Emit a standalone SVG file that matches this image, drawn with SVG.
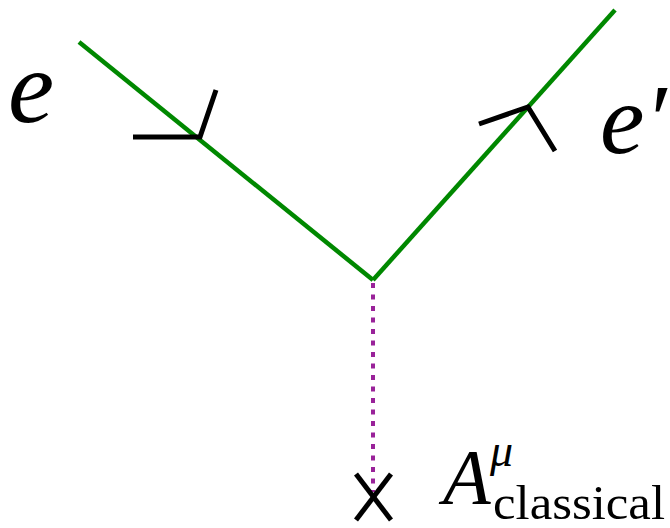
<svg xmlns="http://www.w3.org/2000/svg" width="670" height="528" viewBox="0 0 670 528">
<style>
.fermion{stroke:#008800;stroke-width:4.5;fill:none}
.arrow{stroke:#000;stroke-width:5;fill:none;stroke-linecap:butt}
.photon{stroke:#992299;stroke-width:4;stroke-dasharray:5 6.5;fill:none}
.lbl{font-family:"Liberation Serif","DejaVu Serif",serif;fill:#000}
.it{font-family:"Liberation Serif","DejaVu Serif",serif;font-style:italic;fill:#000}
</style>
<g id="connectors">
<line class="fermion" x1="79" y1="42" x2="373" y2="280"/>
<line class="fermion" x1="373" y1="280" x2="615" y2="10"/>
<line class="photon" x1="373" y1="283" x2="373" y2="492"/>
</g>
<g id="arrow-in">
<polyline class="arrow" points="133,137 200,137 216,90"/>
</g>
<g id="arrow-out">
<polyline class="arrow" points="479,124 528,107 555,151"/>
</g>
<g id="vertex-cross">
<line class="arrow" x1="356" y1="474" x2="391" y2="520"/>
<line class="arrow" x1="391" y1="474" x2="356" y2="520"/>
</g>
<g id="label-e">
<text class="it" x="8" y="122" font-size="104">e</text>
</g>
<g id="label-eprime">
<text class="it" x="600" y="153" font-size="100">e′</text>
</g>
<g id="label-A">
<text class="it" x="443" y="503" font-size="78">A</text>
<text class="it" x="490" y="466" font-size="46">μ</text>
<text class="lbl" x="493" y="519" font-size="48" textLength="172" lengthAdjust="spacingAndGlyphs">classical</text>
</g>
</svg>
